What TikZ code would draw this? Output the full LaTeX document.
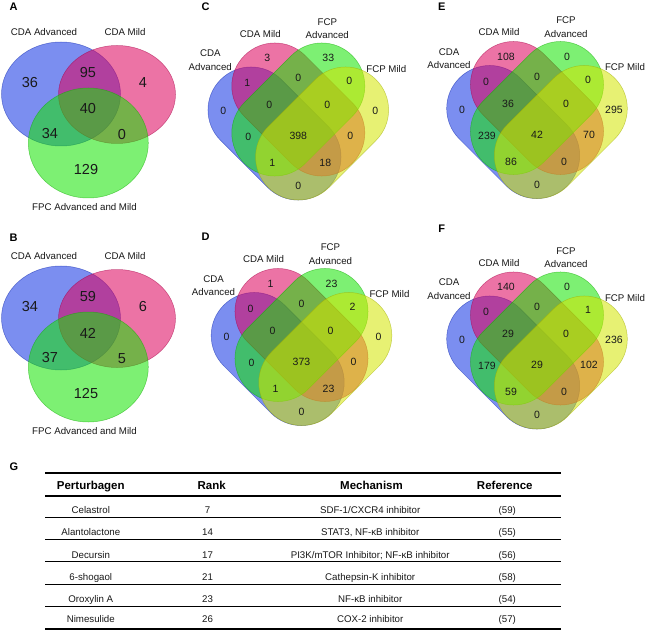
\documentclass[tikz,border=0pt]{standalone}
\usepackage{fontspec}
\setmainfont{Liberation Sans}
\usetikzlibrary{calc}
\definecolor{vblue}{RGB}{15,50,228}
\definecolor{vpink}{RGB}{222,0,92}
\definecolor{vgreen}{RGB}{20,228,0}
\definecolor{vyellow}{RGB}{212,230,0}
\definecolor{txt}{RGB}{25,25,25}
\tikzset{
 vset/.style={fill=#1, fill opacity=0.55, draw=#1!75!black, draw opacity=0.55, line width=0.5pt},
 lbl/.style={text=txt, font=\fontsize{9.7}{13.5}\selectfont, inner sep=0pt, align=center},
 num/.style={text=txt, font=\fontsize{10.5}{12}\selectfont, inner sep=0pt},
 bignum/.style={text=txt, font=\fontsize{14.5}{16}\selectfont, inner sep=0pt},
 panel/.style={text=black, font=\bfseries\fontsize{11}{13}\selectfont, inner sep=0pt},
 thead/.style={text=black, font=\bfseries\fontsize{11.5}{13}\selectfont, anchor=base, inner sep=0pt},
 tcell/.style={text=txt, font=\fontsize{9.7}{11}\selectfont, anchor=base, inner sep=0pt},
 thickrule/.style={line width=1.8pt},
 thinrule/.style={line width=1pt},
}
\newcommand\quadvenn[4]{%
\begin{scope}[shift={(#2,#3)}]
 \begin{scope}[shift={(-23.8,-2.5)},rotate=-45]\path[vset=vblue,rounded corners=42.9pt] (-76.2pt,-43pt) rectangle (76.2pt,43pt);\end{scope}
 \begin{scope}[shift={(0,-26.5)},rotate=-45]\path[vset=vpink,rounded corners=42.9pt] (-76.2pt,-43pt) rectangle (76.2pt,43pt);\end{scope}
 \begin{scope}[shift={(0,-26.5)},rotate=45]\path[vset=vgreen,rounded corners=42.9pt] (-76.2pt,-43pt) rectangle (76.2pt,43pt);\end{scope}
 \begin{scope}[shift={(23.8,-2.5)},rotate=45]\path[vset=vyellow,rounded corners=42.9pt] (-76.2pt,-43pt) rectangle (76.2pt,43pt);\end{scope}
 \foreach \v [count=\i] in {#4} {
   \pgfmathsetmacro\dx{{-31,30,-51,0,51,-75,-29,29,77,-50,0,52,-26,27,0}[\i-1]}
   \pgfmathsetmacro\dy{{-78,-78,-53,-58,-55,-25,-31,-31,-25,1,0,0,27,27,50}[\i-1]}
   \node[num] (#1n\i) at (\dx,\dy) {\v};
 }
 \node[lbl] (#1a) at (-88,-76) {CDA\\Advanced};
 \node[lbl] (#1b) at (-38,-102) {CDA Mild};
 \node[lbl] (#1c) at (29,-107.5) {FCP\\Advanced};
 \node[lbl] (#1d) at (88,-67) {FCP Mild};
\end{scope}}
\newcommand\trivenn[9]{%
\begin{scope}[shift={(0,#2)}]
 \path[vset=vblue] (61,94) ellipse [x radius=59.5pt, y radius=52pt];
 \path[vset=vpink] (117,94.5) ellipse [x radius=58.5pt, y radius=49pt];
 \path[vset=vgreen] (88.3,143) ellipse [x radius=60pt, y radius=55pt];
 \node[bignum] (#1n1) at (30,83) {#3};
 \node[bignum] (#1n2) at (88,73) {#4};
 \node[bignum] (#1n3) at (143,83) {#5};
 \node[bignum] (#1n4) at (88,109) {#6};
 \node[bignum] (#1n5) at (50,134) {#7};
 \node[bignum] (#1n6) at (122,135) {#8};
 \node[bignum] (#1n7) at (86,170) {#9};
 \node[lbl] (#1a) at (44,32) {CDA Advanced};
 \node[lbl] (#1b) at (125,32) {CDA Mild};
 \node[lbl] (#1c) at (84.5,207.5) {FPC Advanced and Mild};
\end{scope}}
\begin{document}
\begin{tikzpicture}[x=1pt,y=-1pt]
\useasboundingbox[fill=white] (0,0) rectangle (648,631);
% panel letters
\node[panel] (pA) at (13.7,7) {A};
\node[panel] (pB) at (13.7,237.5) {B};
\node[panel] (pC) at (205.5,7) {C};
\node[panel] (pD) at (205.5,237) {D};
\node[panel] (pE) at (441.7,7) {E};
\node[panel] (pF) at (441.7,229) {F};
\node[panel] (pG) at (14,467) {G};
% three-set diagrams
\trivenn{A}{0}{36}{95}{4}{40}{34}{0}{129}
\trivenn{B}{224}{34}{59}{6}{42}{37}{5}{125}
% four-set diagrams
\quadvenn{C}{298.3}{136}{3,33,1,0,0,0,0,0,0,0,398,0,1,18,0}
\quadvenn{D}{301.5}{361.5}{1,23,0,0,2,0,0,0,0,0,373,0,1,23,0}
\quadvenn{E}{537}{134.5}{108,0,0,0,0,0,36,0,295,239,42,70,86,0,0}
\quadvenn{F}{537}{365}{140,0,0,0,1,0,29,0,236,179,29,102,59,0,0}
% table
\coordinate (tl) at (45,0);
\coordinate (tr) at (561.3,0);
\draw[thickrule] (45,472.7) -- (561.3,472.7);
\draw[thickrule] (45,496) -- (561.3,496);
\foreach \yy in {517.3,539.3,561.7,584.3,606} {\draw[thinrule] (45,\yy) -- (561.3,\yy);}
\draw[thickrule] (45,629.3) -- (561.3,629.3);
\node[thead] (h1) at (90.8,489.1) {Perturbagen};
\node[thead] (h2) at (211.7,489.1) {Rank};
\node[thead] (h3) at (371.5,489.1) {Mechanism};
\node[thead] (h4) at (504.8,489.1) {Reference};
\foreach \nm/\rk/\mech/\rf/\yy [count=\i] in {
  Celastrol/7/{SDF-1/CXCR4 inhibitor}/59/510,
  Alantolactone/14/{STAT3, NF-κB inhibitor}/55/531.7,
  Decursin/17/{PI3K/mTOR Inhibitor; NF-κB inhibitor}/56/555,
  6-shogaol/21/{Cathepsin-K inhibitor}/58/576.7,
  Oroxylin A/23/{NF-κB inhibitor}/54/599.3,
  Nimesulide/26/{COX-2 inhibitor}/57/619.3} {
  \node[tcell] (r\i a) at (90.8,\yy+3.5) {\nm};
  \node[tcell] (r\i b) at (207.5,\yy+3.5) {\rk};
  \node[tcell] (r\i c) at (370.2,\yy+3.5) {\mech};
  \node[tcell] (r\i d) at (507.3,\yy+3.5) {(\rf)};
}
\end{tikzpicture}
\end{document}
